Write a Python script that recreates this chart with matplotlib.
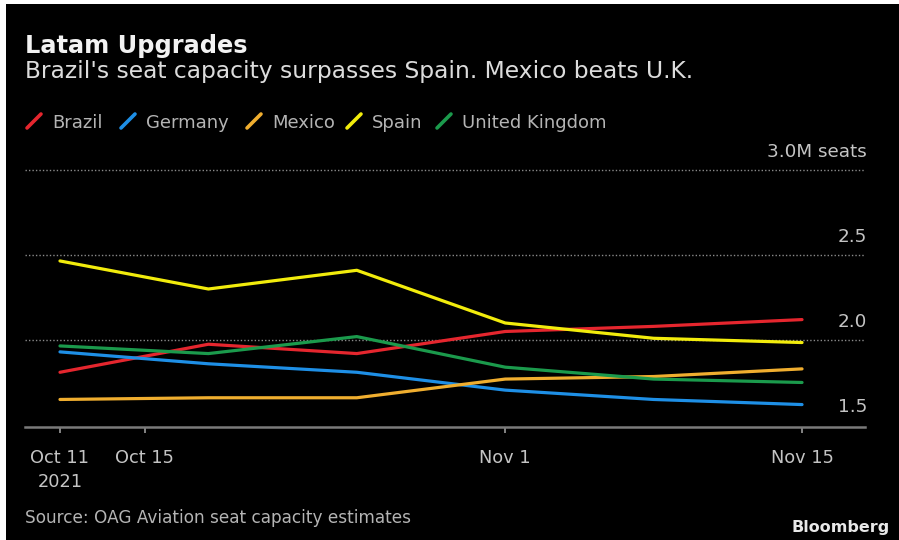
import matplotlib
matplotlib.use("Agg")
import matplotlib.pyplot as plt
import matplotlib.dates as mdates
from matplotlib.lines import Line2D
from matplotlib.patches import Rectangle
import matplotlib.transforms as mtransforms
from datetime import datetime

# Weekly seat capacity, millions of seats
dates = ["2021-10-11", "2021-10-18", "2021-10-25", "2021-11-01", "2021-11-08", "2021-11-15"]
brazil = [1.81, 1.975, 1.92, 2.05, 2.08, 2.12]
germany = [1.93, 1.86, 1.81, 1.705, 1.65, 1.62]
mexico = [1.65, 1.66, 1.66, 1.77, 1.785, 1.83]
spain = [2.465, 2.30, 2.41, 2.10, 2.01, 1.985]
uk = [1.965, 1.92, 2.02, 1.84, 1.77, 1.75]

series_names = ["Brazil", "Germany", "Mexico", "Spain", "United Kingdom"]
series_colors = ["#e5262e", "#1e8fe6", "#f0ae2f", "#f2ec0c", "#1b9a4c"]

tick_dates = ["2021-10-11", "2021-10-15", "2021-11-01", "2021-11-15"]
tick_labels = ["Oct 11\n2021", "Oct 15", "Nov 1", "Nov 15"]
y_gridvals = [3.0, 2.5, 2.0]
y_labels = {3.0: "3.0M seats", 2.5: "2.5", 2.0: "2.0", 1.5: "1.5"}

W, H = 899, 540
fig = plt.figure(figsize=(W / 100, H / 100), dpi=100, facecolor="white")

# dark panel with a thin light frame on the top and left edges
fig.patches.append(Rectangle((6 / W, 0), 1 - 6 / W, 1 - 4 / H, transform=fig.transFigure,
                             facecolor="black", edgecolor="none", zorder=-10))


def fx(px):
    return px / W


def fy(py):
    return 1 - py / H


ax = fig.add_axes([fx(25), fy(427), (865 - 25) / W, (427 - 160) / H])
ax.set_facecolor("none")
ax.set_zorder(1)

x = [datetime.strptime(d, "%Y-%m-%d") for d in dates]
for vals, name, col in zip([brazil, germany, mexico, spain, uk], series_names, series_colors):
    ax.plot(x, vals, color=col, lw=2.3, solid_capstyle="round", solid_joinstyle="round", zorder=3)

x0 = datetime(2021, 10, 11)
ax.set_xlim(mdates.date2num(x0) - 1.65, mdates.date2num(datetime(2021, 11, 15)) + 2.97)
ax.set_ylim(1.488, 3.059)

for v in y_gridvals:
    ax.axhline(v, color="#8a8a8a", lw=1.0, ls=(0, (1, 1.5)), zorder=1)

for s in ["top", "right", "left"]:
    ax.spines[s].set_visible(False)
ax.spines["bottom"].set_color("#7a7a7a")
ax.spines["bottom"].set_linewidth(1.8)

ax.set_yticks([])
ax.set_xticks([datetime.strptime(d, "%Y-%m-%d") for d in tick_dates])
ax.set_xticklabels(tick_labels, color="#c4c4c4", fontsize=12.8, linespacing=1.45)
ax.tick_params(axis="x", length=4.5, width=1.2, color="#9a9a9a", pad=11)

trans = mtransforms.blended_transform_factory(ax.transAxes, ax.transData)
for v, lab in y_labels.items():
    ax.annotate(lab, xy=(1.0, v), xycoords=trans, xytext=(2, 13), textcoords="offset pixels",
                ha="right", va="baseline", color="#c4c4c4", fontsize=13.2, annotation_clip=False)

# headings
fig.text(fx(25), fy(53), "Latam Upgrades", color="#f2f2f2", fontsize=17.3, fontweight="bold",
         va="baseline", ha="left")
fig.text(fx(25), fy(78), "Brazil's seat capacity surpasses Spain. Mexico beats U.K.", color="#dcdcdc",
         fontsize=16.8, va="baseline", ha="left")

# legend
legend_text_x = [52, 146, 272, 372, 462]
for tx, name, col in zip(legend_text_x, series_names, series_colors):
    sx = tx - 25
    fig.add_artist(Line2D([fx(sx), fx(sx + 14)], [fy(128), fy(114)], transform=fig.transFigure,
                          color=col, lw=2.6, solid_capstyle="round"))
    fig.text(fx(tx), fy(128), name, color="#b4b4b4", fontsize=13, va="baseline", ha="left")

fig.text(fx(25), fy(523), "Source: OAG Aviation seat capacity estimates", color="#b4b4b4",
         fontsize=12.2, va="baseline", ha="left")
fig.text(fx(890), fy(532), "Bloomberg", color="#e8e8e8", fontsize=11.5, fontweight="bold",
         va="baseline", ha="right")

fig.savefig("out.png", dpi=100, facecolor=fig.get_facecolor())
